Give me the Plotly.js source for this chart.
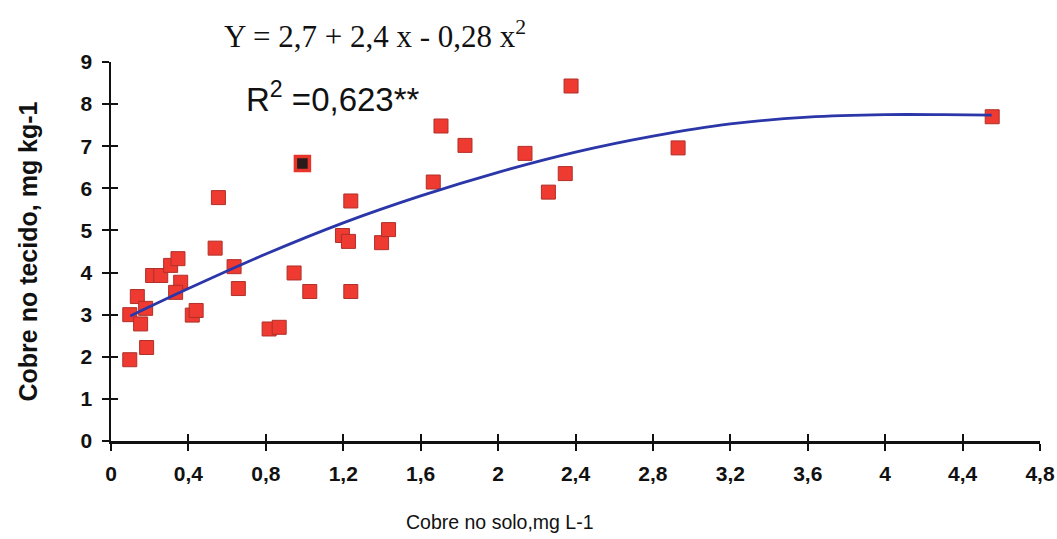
<!DOCTYPE html>
<html>
<head>
<meta charset="utf-8">
<script src="https://cdn.plot.ly/plotly-3.0.1.min.js"></script>
<style>html,body{margin:0;padding:0;background:#fff;}#chart{width:1057px;height:539px;}</style>
</head>
<body>
<div id="chart"></div>
<script>
// Observed points: copper in soil (mg L-1) vs copper in tissue (mg kg-1)
const soilCu = [0.097,0.184,0.097,0.153,0.136,0.179,0.215,0.257,0.308,0.346,0.360,0.334,0.420,0.440,0.538,0.555,0.636,0.658,0.817,0.869,0.946,0.989,1.027,1.196,1.227,1.239,1.239,1.398,1.434,1.665,1.705,1.829,2.139,2.260,2.347,2.377,2.930,4.553];
const tissueCu = [1.93,2.22,3.00,2.78,3.43,3.15,3.93,3.93,4.17,4.33,3.77,3.53,2.99,3.10,4.58,5.78,4.14,3.62,2.66,2.70,3.99,6.59,3.55,4.88,4.74,5.70,3.55,4.71,5.02,6.15,7.48,7.02,6.83,5.91,6.35,8.43,6.96,7.70];
// Fitted curve
const fitX = [0.1,0.4,0.8,1.2,1.6,2.0,2.4,2.8,3.2,3.6,4.0,4.3,4.55];
const fitY = [2.97,3.62,4.44,5.18,5.82,6.38,6.86,7.24,7.53,7.69,7.75,7.75,7.74];
const xTickVals = [0,0.4,0.8,1.2,1.6,2,2.4,2.8,3.2,3.6,4,4.4,4.8];
const xTickText = ['0','0,4','0,8','1,2','1,6','2','2,4','2,8','3,2','3,6','4','4,4','4,8'];
const yTickVals = [0,1,2,3,4,5,6,7,8,9];
const equationText = 'Y = 2,7 + 2,4 x - 0,28 x<sup>2</sup>';
const r2Text = 'R<sup>2</sup> =0,623**';
const xTitle = 'Cobre no solo,mg L-1';
const yTitle = 'Cobre no tecido, mg kg-1';
const darkIndex = 21;

const markerColors = soilCu.map((_, i) => i === darkIndex ? '#2a1a1a' : '#ee3a30');
const markerLines = soilCu.map((_, i) => i === darkIndex ? '#e8352c' : '#b0302a');
const markerLineW = soilCu.map((_, i) => i === darkIndex ? 3.5 : 1);

const traces = [
  {x: soilCu, y: tissueCu, type: 'scatter', mode: 'markers', xaxis: 'x', yaxis: 'y',
   marker: {symbol: 'square', size: 14, color: markerColors, line: {color: markerLines, width: markerLineW}},
   showlegend: false, hoverinfo: 'x+y'},
  {x: fitX, y: fitY, type: 'scatter', mode: 'lines', xaxis: 'x2', yaxis: 'y2',
   line: {color: '#2b36a8', width: 2.8, shape: 'spline', smoothing: 0.8}, showlegend: false, hoverinfo: 'skip'}
];

const layout = {
  width: 1057, height: 539,
  margin: {l: 111, r: 17, t: 62, b: 98},
  paper_bgcolor: '#fff', plot_bgcolor: '#fff',
  xaxis: {range: [0, 4.8], tickmode: 'array', tickvals: xTickVals, ticktext: xTickText, ticklabelstandoff: 5,
    showgrid: false, zeroline: false, showline: true, linecolor: '#111', linewidth: 2.5,
    ticks: 'outside', ticklen: 7, tickwidth: 2, tickcolor: '#111',
    tickfont: {family: 'Liberation Sans, Arial, sans-serif', size: 21, color: '#111', weight: 'bold'}},
  yaxis: {range: [0, 9], tickmode: 'array', tickvals: yTickVals, ticktext: yTickVals.map(String), ticklabelstandoff: 5,
    showgrid: false, zeroline: false, showline: true, linecolor: '#111', linewidth: 2.5,
    ticks: 'outside', ticklen: 7, tickwidth: 2, tickcolor: '#111',
    tickfont: {family: 'Liberation Sans, Arial, sans-serif', size: 21, color: '#111', weight: 'bold'}},
  xaxis2: {overlaying: 'x', anchor: 'y2', range: [0, 4.8], showgrid: false, zeroline: false, showline: false, ticks: 'inside', ticklen: 7, tickwidth: 2, tickcolor: '#111', tickmode: 'array', tickvals: xTickVals, showticklabels: false, side: 'bottom'},
  yaxis2: {overlaying: 'y', anchor: 'x2', range: [0, 9], showgrid: false, zeroline: false, showline: false, ticks: 'inside', ticklen: 7, tickwidth: 2, tickcolor: '#111', tickmode: 'array', tickvals: yTickVals, showticklabels: false, side: 'left'},
  annotations: [
    {text: equationText, xref: 'paper', yref: 'paper', x: 0.284, y: 1.072, showarrow: false, xanchor: 'center', yanchor: 'middle',
     font: {family: 'Liberation Serif, Times New Roman, serif', size: 31, color: '#111'}},
    {text: r2Text, xref: 'paper', yref: 'paper', x: 0.239, y: 0.908, showarrow: false, xanchor: 'center', yanchor: 'middle',
     font: {family: 'Liberation Sans, Arial, sans-serif', size: 33, color: '#111'}},
    {text: xTitle, xref: 'paper', yref: 'paper', x: 0.419, y: -0.214, showarrow: false, xanchor: 'center', yanchor: 'middle',
     font: {family: 'Liberation Sans, Arial, sans-serif', size: 19.5, color: '#111'}},
    {text: yTitle, xref: 'paper', yref: 'paper', x: -0.0904, y: 0.50, showarrow: false, xanchor: 'center', yanchor: 'middle', textangle: -90,
     font: {family: 'Liberation Sans, Arial, sans-serif', size: 25, color: '#111', weight: 'bold'}}
  ]
};

Plotly.newPlot('chart', traces, layout, {displayModeBar: false, staticPlot: true});
</script>
</body>
</html>
